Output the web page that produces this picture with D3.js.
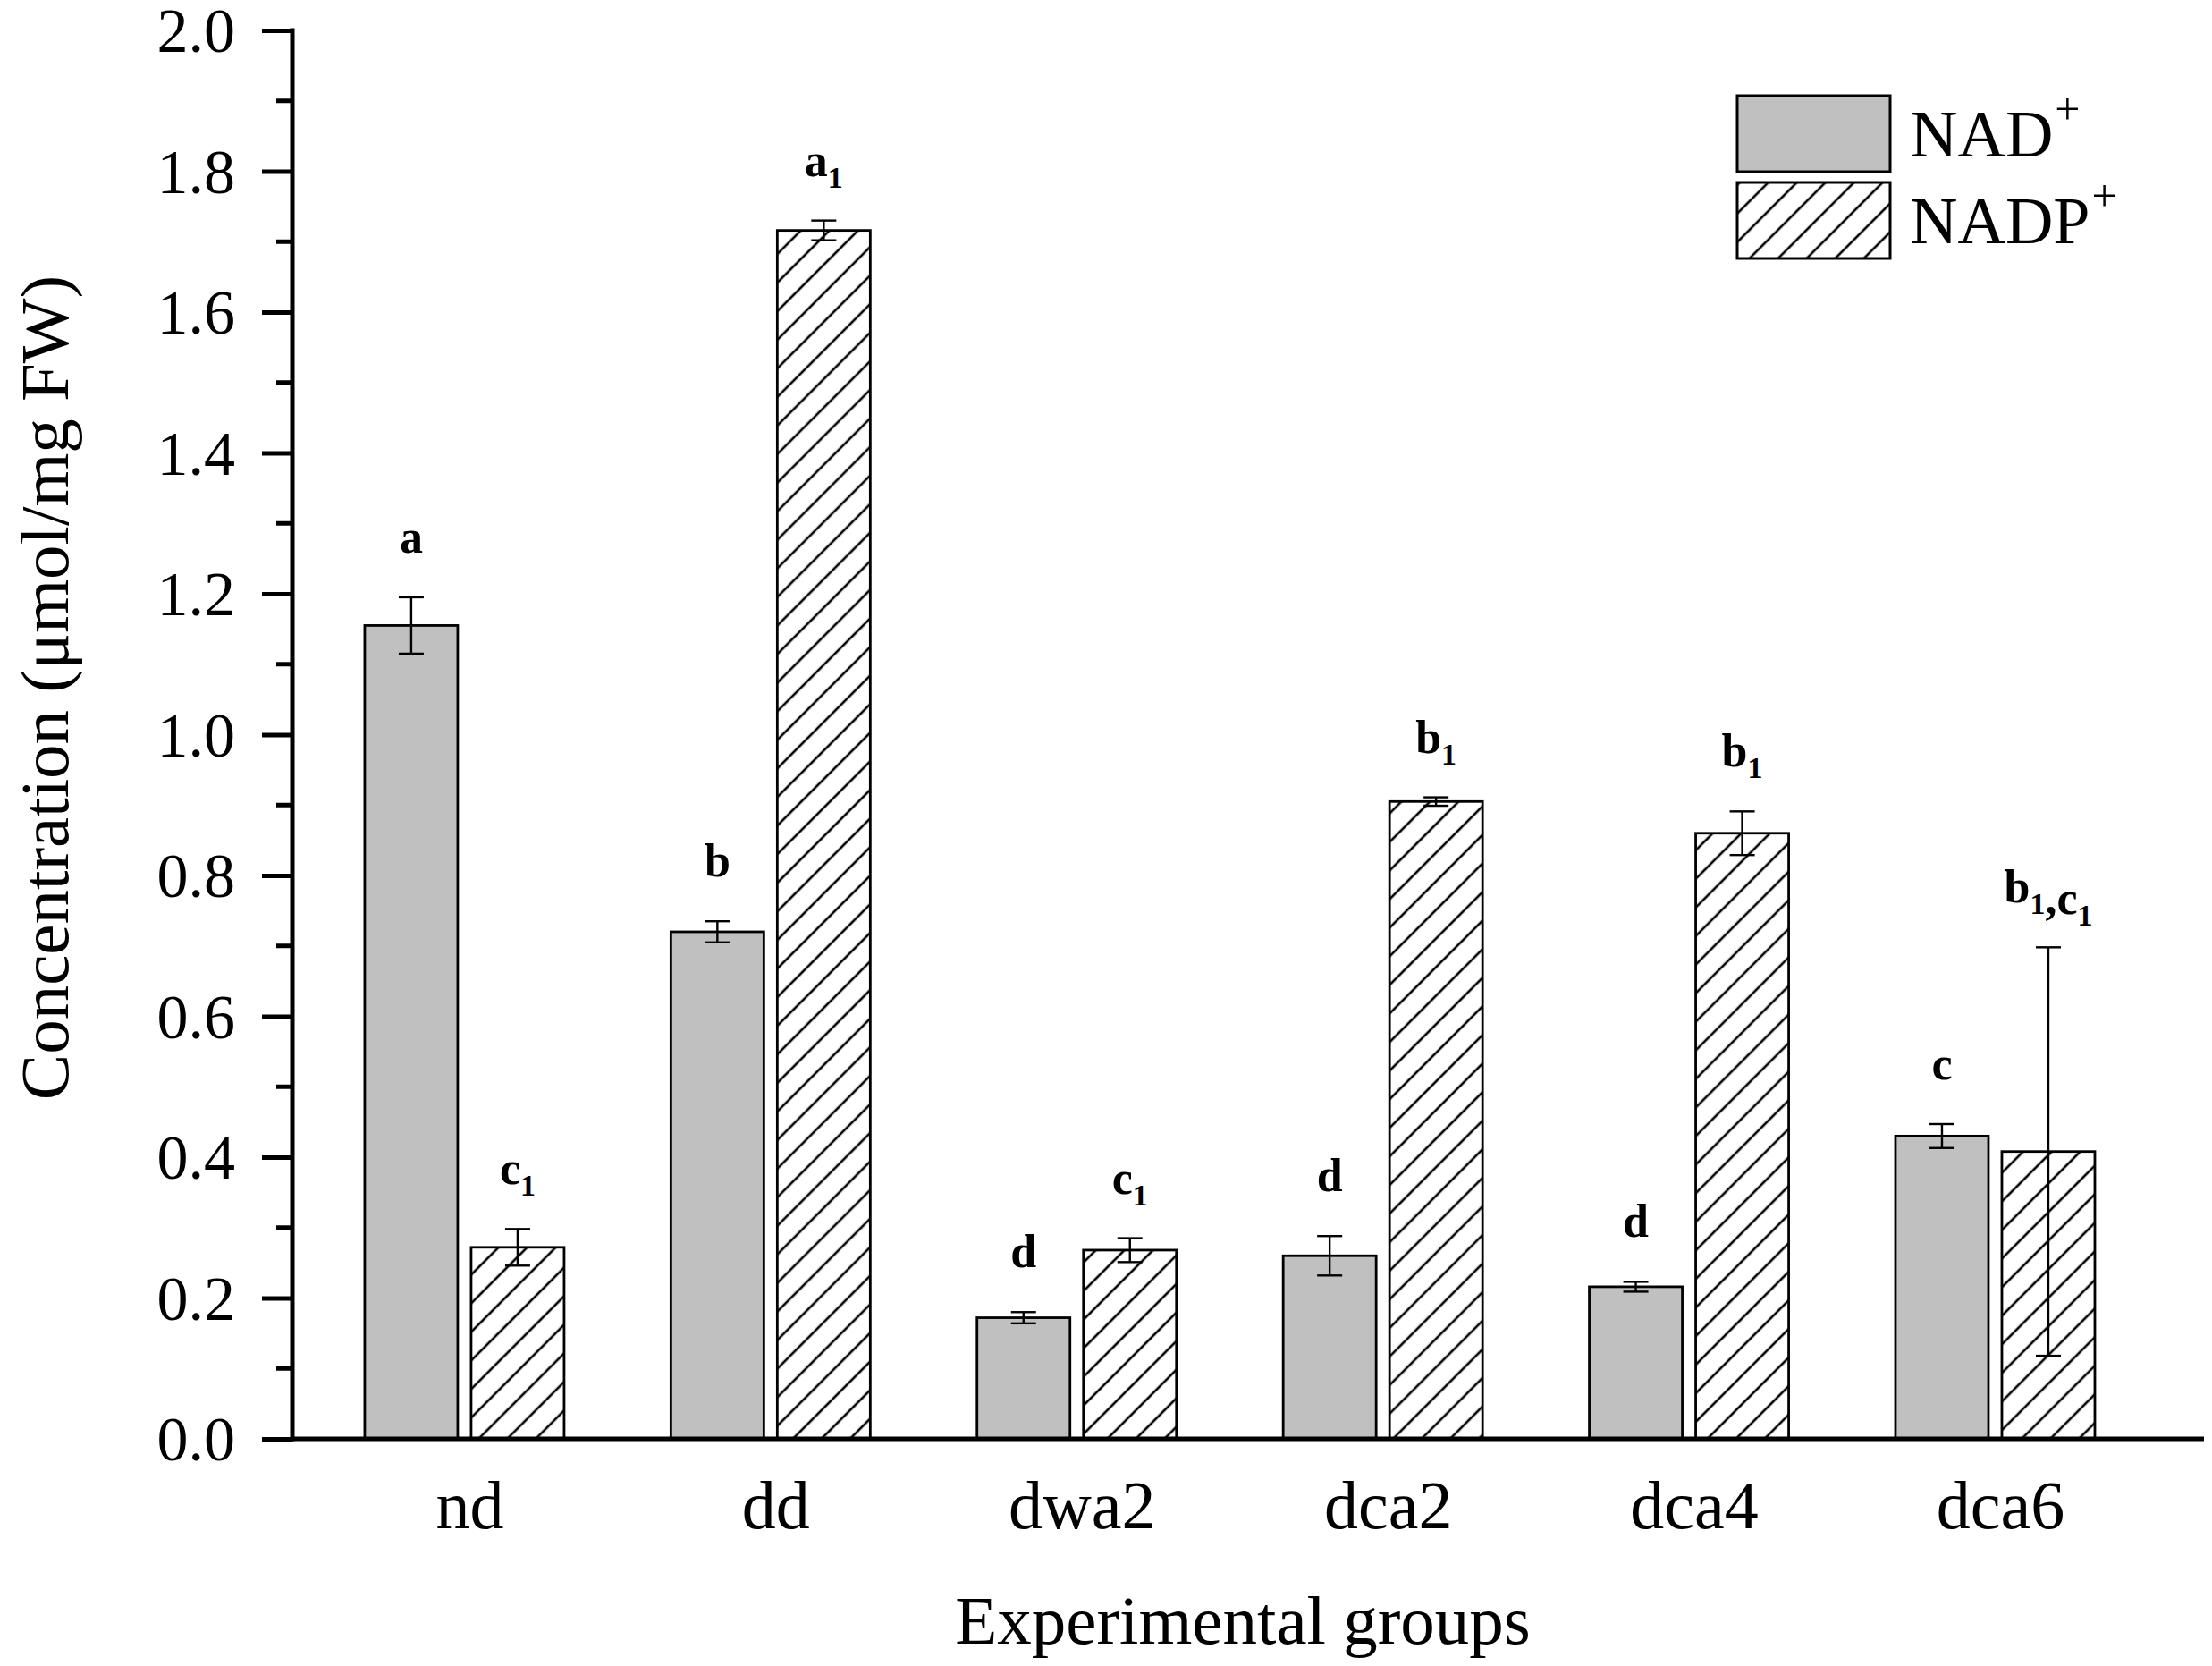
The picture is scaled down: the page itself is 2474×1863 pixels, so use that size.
<!DOCTYPE html>
<html>
<head>
<meta charset="utf-8">
<script src="https://cdn.jsdelivr.net/npm/d3@7"></script>
<style>
  body { margin: 0; background: #fff; }
  svg { display: block; }
  text { font-family: "Liberation Serif", "Times New Roman", serif; fill: #000; }
</style>
</head>
<body>
<div id="chart"></div>
<script>
// values
const groups = ['nd', 'dd', 'dwa2', 'dca2', 'dca4', 'dca6'];
const nadMean = [1.155, 0.720, 0.172, 0.260, 0.216, 0.430];
const nadErr = [0.040, 0.015, 0.008, 0.028, 0.007, 0.017];
const nadpMean = [0.272, 1.716, 0.268, 0.905, 0.860, 0.408];
const nadpErr = [0.026, 0.014, 0.017, 0.006, 0.031, 0.290];
const nadLetters = ['a', 'b', 'd', 'd', 'd', 'c'];
const nadpLetters = ['c_1', 'a_1', 'c_1', 'b_1', 'b_1', 'b_1,c_1'];
const yTicks = [0, 0.2, 0.4, 0.6, 0.8, 1.0, 1.2, 1.4, 1.6, 1.8, 2.0];
const legendNames = ['NAD', 'NADP'];

const width = 2474, height = 1863;

const svg = d3.select('#chart').append('svg')
  .attr('width', width)
  .attr('height', height);

svg.append('rect').attr('width', width).attr('height', height).attr('fill', '#fff');

// hatch pattern
const defs = svg.append('defs');
defs.append('pattern')
  .attr('id', 'hatch')
  .attr('patternUnits', 'userSpaceOnUse')
  .attr('width', 22.6)
  .attr('height', 22.6)
  .attr('patternTransform', 'rotate(45)')
  .append('line')
  .attr('x1', 2).attr('y1', -2)
  .attr('x2', 2).attr('y2', 25)
  .attr('stroke', '#000')
  .attr('stroke-width', 2.6);

const yScale = d3.scaleLinear()
  .domain([0, 2])
  .range([1609, 34]);

const xScale = d3.scaleLinear()
  .domain([-0.562, 5.682])
  .range([327, 2465]);

const barW = 104, gap = 15;

// bars
const series = [
  { mean: nadMean, err: nadErr, letters: nadLetters, fill: '#c0c0c0', off: -gap / 2 - barW },
  { mean: nadpMean, err: nadpErr, letters: nadpLetters, fill: 'url(#hatch)', off: gap / 2 }
];

series.forEach(s => {
  const g = svg.append('g');

  g.selectAll('rect')
    .data(groups)
    .join('rect')
    .attr('x', (d, i) => xScale(i) + s.off)
    .attr('y', (d, i) => yScale(s.mean[i]))
    .attr('width', barW)
    .attr('height', (d, i) => yScale(0) - yScale(s.mean[i]))
    .attr('fill', s.fill)
    .attr('stroke', '#000')
    .attr('stroke-width', 2.8);

  // error bars
  groups.forEach((d, i) => {
    const cx = xScale(i) + s.off + barW / 2;
    const top = yScale(s.mean[i] + s.err[i]);
    const bot = yScale(s.mean[i] - s.err[i]);
    g.append('line').attr('x1', cx).attr('x2', cx).attr('y1', top).attr('y2', bot)
      .attr('stroke', '#000').attr('stroke-width', 2.4);
    [top, bot].forEach(yy => {
      g.append('line').attr('x1', cx - 14).attr('x2', cx + 14).attr('y1', yy).attr('y2', yy)
        .attr('stroke', '#000').attr('stroke-width', 2.4);
    });

    // significance letters
    const t = g.append('text')
      .attr('x', cx)
      .attr('y', top - 50)
      .attr('text-anchor', 'middle')
      .attr('font-size', 52)
      .attr('font-weight', 'bold');
    s.letters[i].split(',').forEach((part, k) => {
      const [main, sub] = part.split('_');
      if (k > 0) t.append('tspan').text(',');
      t.append('tspan').text(main);
      if (sub) {
        t.append('tspan').attr('font-size', 34).attr('dy', 13).text(sub);
        t.append('tspan').attr('dy', -13).text('');
      }
    });
  });
});

// y axis
const yAxis = svg.append('g')
  .attr('transform', 'translate(327,0)')
  .call(d3.axisLeft(yScale)
    .tickValues(yTicks)
    .tickSize(34)
    .tickPadding(30)
    .tickFormat(d3.format('.1f')));

yAxis.select('.domain').remove();
yAxis.selectAll('.tick line').attr('stroke', '#000').attr('stroke-width', 5);
yAxis.selectAll('.tick text')
  .attr('font-size', 70)
  .attr('font-family', '"Liberation Serif", serif')
  .attr('dy', '0.34em')
  .attr('fill', '#000');

// minor ticks
const minor = d3.range(0.1, 2, 0.2);
svg.append('g').selectAll('line')
  .data(minor)
  .join('line')
  .attr('x1', 327 - 18).attr('x2', 327)
  .attr('y1', d => yScale(d)).attr('y2', d => yScale(d))
  .attr('stroke', '#000').attr('stroke-width', 5);

svg.append('line')
  .attr('x1', 327).attr('x2', 327)
  .attr('y1', yScale(2) - 2.5).attr('y2', yScale(0) + 2.5)
  .attr('stroke', '#000').attr('stroke-width', 5);

// x axis
svg.append('line')
  .attr('x1', 327).attr('x2', xScale.range()[1])
  .attr('y1', yScale(0)).attr('y2', yScale(0))
  .attr('stroke', '#000').attr('stroke-width', 5);

svg.append('g').selectAll('text')
  .data(groups)
  .join('text')
  .attr('x', (d, i) => xScale(i) + 6)
  .attr('y', 1709)
  .attr('text-anchor', 'middle')
  .attr('font-size', 76)
  .text(d => d);

// axis titles
svg.append('text')
  .attr('x', 1390)
  .attr('y', 1838)
  .attr('text-anchor', 'middle')
  .attr('font-size', 77)
  .text('Experimental groups');

svg.append('text')
  .attr('transform', 'translate(76,769) rotate(-90)')
  .attr('text-anchor', 'middle')
  .attr('font-size', 77)
  .text('Concentration (μmol/mg FW)');

// legend
const legend = svg.append('g').attr('transform', 'translate(1943,107)');
legendNames.forEach((name, i) => {
  const row = legend.append('g').attr('transform', `translate(0,${i * 97})`);
  row.append('rect')
    .attr('width', 171)
    .attr('height', 85)
    .attr('fill', i === 0 ? '#c0c0c0' : 'url(#hatch)')
    .attr('stroke', '#000')
    .attr('stroke-width', 3);
  const t = row.append('text')
    .attr('x', 193)
    .attr('y', 68)
    .attr('font-size', 74);
  t.append('tspan').text(name);
  t.append('tspan').attr('font-size', 50).attr('dy', -36).attr('dx', 2).text('+');
});
</script>
</body>
</html>
